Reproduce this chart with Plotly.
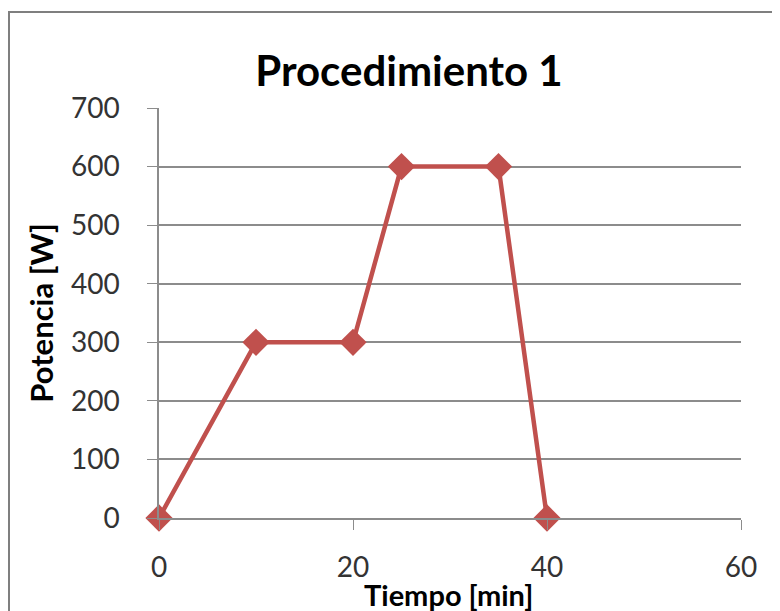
import plotly.graph_objects as go

tiempo = [0, 10, 20, 25, 35, 40]
potencia = [0, 300, 300, 600, 600, 0]
x_ticks = [0, 20, 40, 60]
y_ticks = [0, 100, 200, 300, 400, 500, 600, 700]

FONT = "Lato"
RED = "#C0504D"
GRID = "#8C8C8C"

W, H = 780, 611
L, R, T, B = 151, 47, 100, 101  # page has an 8px body margin
pw, ph = W - L - R, H - T - B

fig = go.Figure()
fig.add_trace(go.Scatter(
    x=tiempo, y=potencia, mode="lines+markers",
    line=dict(color=RED, width=4.5),
    marker=dict(symbol="diamond", size=21, color=RED),
    cliponaxis=False,
    showlegend=False,
))

fig.update_layout(
    width=W, height=H,
    margin=dict(l=L, r=R, t=T, b=B),
    paper_bgcolor="white", plot_bgcolor="white",
    font=dict(family=FONT, color="#333333"),
    title=dict(text="<b>Procedimiento 1</b>", x=401 / W, xanchor="center",
               y=1 - 63 / H, yanchor="middle", yref="container",
               font=dict(family=FONT, size=42, color="black")),
    xaxis=dict(range=[0, 60], tickvals=x_ticks, showgrid=False, zeroline=False,
               showline=True, linecolor=GRID, linewidth=1.5,
               ticks="outside", ticklen=10, tickcolor=GRID,
               ticklabelstandoff=14,
               tickfont=dict(size=28, family=FONT, color="#333333")),
    yaxis=dict(range=[0, 700], tickvals=y_ticks, showgrid=True, gridcolor=GRID,
               gridwidth=1.5, zeroline=False,
               showline=True, linecolor=GRID, linewidth=1.5,
               ticks="outside", ticklen=10, tickcolor=GRID,
               ticklabelstandoff=22,
               tickfont=dict(size=28, family=FONT, color="#333333"),
               title=dict(text="<b>Potencia [W]</b>", standoff=8,
                          font=dict(size=31, family=FONT, color="black"))),
)

fig.add_annotation(text="<b>Tiempo [min]</b>", xref="paper", yref="paper",
                   x=(440 - L) / pw, y=(ph - (567 - T)) / ph,
                   xanchor="center", yanchor="top", showarrow=False,
                   font=dict(size=29, family=FONT, color="black"))

fig.add_shape(type="rect", xref="paper", yref="paper",
              x0=(1 - L) / pw, x1=1.3, y0=-0.5, y1=(ph + T - 4) / ph,
              line=dict(color="#7F7F7F", width=2), fillcolor="rgba(0,0,0,0)",
              layer="below")

fig.write_html("out.html")
